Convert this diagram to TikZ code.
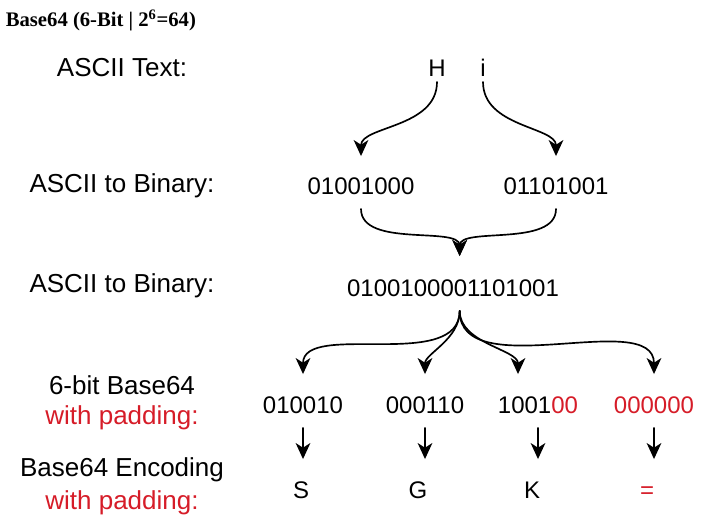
\documentclass[tikz,border=0pt]{standalone}
\usepackage{fontspec}
\setmainfont{Liberation Sans}
\newfontfamily\titlefont{Liberation Serif}
\usetikzlibrary{arrows.meta}
\definecolor{padred}{RGB}{214,28,40}
\begin{document}
\begin{tikzpicture}[x=.75pt, y=-.75pt, line join=round, line cap=round, line width=1.25pt,
		>={Stealth[length=12pt,width=11pt,inset=3.5pt]},
		lbl/.style={font=\fontsize{19.5}{23}\selectfont},
		bits/.style={font=\fontsize{18}{21}\selectfont, text height=13pt, text depth=0pt},
		pad/.style={text=padred}]
		\useasboundingbox (0,0) rectangle (713,531);
		\node[anchor=west, inner sep=0pt] (title) at (5,20) {\titlefont\fontsize{15.5}{18}\selectfont\bfseries Base64 (6-Bit | 2\textsuperscript{6}=64)};
		% labels on the left
		\node[lbl] (t1) at (122,68) {ASCII Text:};
		\node[lbl] (t2) at (122,186) {ASCII to Binary:};
		\node[lbl] (t3) at (122,286) {ASCII to Binary:};
		\node[lbl] (t4) at (122,385) {6-bit Base64};
		\node[lbl,pad] (t4p) at (122,418) {with padding:};
		\node[lbl] (t5) at (122,470) {Base64 Encoding};
		\node[lbl,pad] (t5p) at (122,503) {with padding:};
		% the values
		\node[bits] (H) at (437,68) {H};
		\node[bits] (i) at (483,68) {i};
		\node[bits] (b1) at (361,186) {01001000};
		\node[bits] (b2) at (556,186) {01101001};
		\node[bits] (bb) at (453,288) {0100100001101001};
		\node[bits] (c1) at (303,405) {010010};
		\node[bits] (c2) at (425,405) {000110};
		\node[bits] (c3) at (538,405) {1001\textcolor{padred}{00}};
		\node[bits,pad] (c4) at (654,405) {000000};
		\node[bits] (d1) at (301,490) {S};
		\node[bits] (d2) at (418,490) {G};
		\node[bits] (d3) at (532,490) {K};
		\node[bits,pad] (d4) at (647,490) {=};
		% arrows
		\draw[->, shorten >=12pt] (H.south) to[out=-90,in=90] (b1.north);
		\draw[->, shorten >=12pt] (i.south) to[out=-90,in=90] (b2.north);
		\draw[->, shorten <=6.75pt, shorten >=13.5pt] (b1.south) to[out=-90,in=90] ([xshift=5pt]bb.north);
		\draw[->, shorten <=6.75pt, shorten >=13.5pt] (b2.south) to[out=-90,in=90] ([xshift=5pt]bb.north);
		\foreach \c/\dx in {c1/0,c2/0,c3/-15,c4/0}
			\draw[->, shorten <=6.75pt, shorten >=12.75pt] ([xshift=5pt]bb.south) to[out=-90,in=90] ([xshift=\dx pt]\c.north);
		\foreach \n in {1,...,4}
			\draw[->, shorten <=6.75pt, shorten >=12.75pt] (c\n.south) -- (c\n.south |- d\n.north);
\end{tikzpicture}
\end{document}
